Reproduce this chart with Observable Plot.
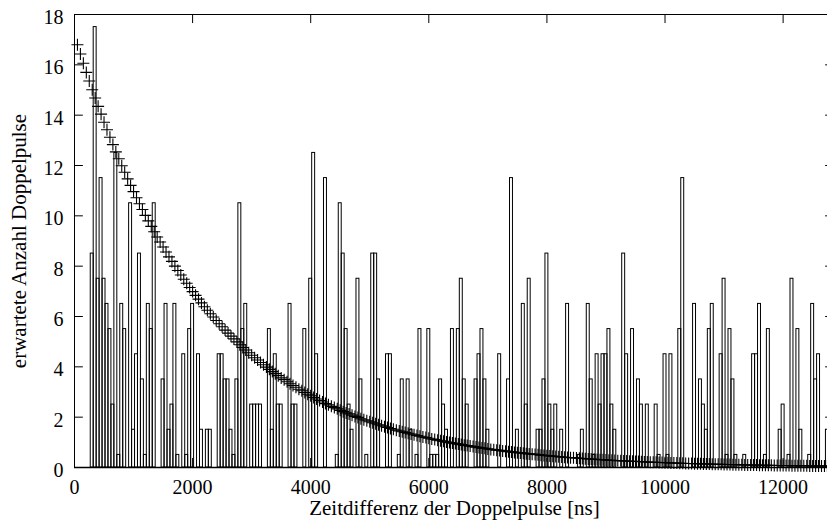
<!DOCTYPE html>
<html>
<head>
<meta charset="utf-8">
<script src="https://cdn.jsdelivr.net/npm/d3@7"></script>
<script src="https://cdn.jsdelivr.net/npm/@observablehq/plot@0.6"></script>
<style>
  html, body { margin: 0; padding: 0; background: white; overflow: hidden; }
  svg { display: block; }
</style>
</head>
<body>
<div id="chart"></div>
<script>
// Histogram bins (center time in ns, bin width 50 ns) and expected counts
const binWidth = 50;
const barTimes = [
  300,350,400,450,500,550,600,650,700,750,800,850,950,1000,1050,1100,1150,1200,1250,1300,1350,1500,1550,
  1600,1650,1700,1750,1850,1900,1950,2000,2100,2150,2250,2300,2450,2500,2550,2600,2650,2700,2750,2800,2850,2900,3000,3050,3100,3150,
  3300,3350,3400,3450,3500,3650,3700,3750,3900,4000,4050,4100,4250,4450,4500,4550,4600,4650,4700,4800,
  4850,4950,5050,5100,5150,5300,5350,5500,5550,5650,5700,5800,5850,6000,6050,6100,6150,6200,6250,6300,6400,
  6500,6550,6600,6650,6800,6850,6900,6950,7000,7200,7350,7400,7500,7600,7650,7700,7850,7900,7950,8000,8050,
  8100,8150,8250,8350,8550,8600,8700,8750,8800,8850,8900,8950,9000,9050,9100,9150,9300,9350,9450,9550,9600,
  9700,9850,9900,10000,10050,10100,10250,10300,10500,10600,10650,10700,10750,10800,10950,11000,11050,11100,11150,11200,
  11350,11500,11550,11600,11700,11750,11950,12000,12100,12150,12250,12300,12450,12500,12550,12600,12750
];
const barCounts = [
  8.5,17.5,7.5,11.5,7.5,6.5,5.5,2.5,12.5,0.5,6.5,5.5,10.5,1.5,4.5,8.5,3.5,0.5,6.5,5.5,10.5,3.5,6.5,
  1.5,2.5,6.5,0.5,4.5,0.5,5.5,6.5,4.5,1.5,1.5,1.5,4.5,4.5,3.5,3.5,1.5,0.5,3.5,10.5,5.5,6.5,2.5,2.5,2.5,2.5,
  5.5,1.5,4.5,2.5,2.5,6.5,2.5,2.5,5.5,7.5,12.5,4.5,11.5,0.5,10.5,8.5,5.5,2.5,1.5,7.5,
  3.5,0.5,8.5,8.5,3.5,4.5,4.5,0.5,3.5,3.5,1.5,0.5,5.5,5.5,0.5,0.5,0.5,3.5,2.5,1.5,5.5,
  5.5,7.5,3.5,2.5,3.5,4.5,5.5,3.5,1.5,4.5,3.5,11.5,1.5,6.5,2.5,7.5,1.5,1.5,3.5,8.5,2.5,
  1.5,2.5,1.5,6.5,0.5,1.5,6.5,3.5,0.5,4.5,2.5,4.5,4.5,5.5,2.5,1.5,8.5,4.5,5.5,3.5,2.5,
  2.5,2.5,0.5,4.5,0.5,4.5,5.5,11.5,6.5,3.5,2.5,1.5,5.5,6.5,4.5,7.5,0.5,5.5,3.5,0.5,
  0.5,4.5,4.5,6.5,0.5,5.5,1.5,2.5,0.5,7.5,5.5,1.5,0.5,6.5,3.5,4.5,1.5
];

// Expected-value curve, one "+" every 50 ns starting at 50 ns
const curveStart = 50;
const curveStep = 50;
const curveValues = [
  16.80,16.43,16.06,15.70,15.36,15.01,14.68,14.35,14.04,13.72,
  13.42,13.12,12.83,12.54,12.27,11.99,11.73,11.47,11.21,10.96,
  10.72,10.48,10.25,10.02,9.80,9.58,9.37,9.16,8.96,8.76,
  8.56,8.37,8.19,8.00,7.83,7.65,7.48,7.32,7.15,6.99,
  6.84,6.69,6.54,6.39,6.25,6.11,5.98,5.84,5.71,5.59,
  5.46,5.34,5.22,5.11,4.99,4.88,4.77,4.67,4.56,4.46,
  4.36,4.27,4.17,4.08,3.99,3.90,3.81,3.73,3.65,3.56,
  3.49,3.41,3.33,3.26,3.19,3.11,3.05,2.98,2.91,2.85,
  2.78,2.72,2.66,2.60,2.54,2.49,2.43,2.38,2.33,2.27,
  2.22,2.17,2.13,2.08,2.03,1.99,1.94,1.90,1.86,1.82,
  1.78,1.74,1.70,1.66,1.62,1.59,1.55,1.52,1.48,1.45,
  1.42,1.39,1.36,1.33,1.30,1.27,1.24,1.21,1.19,1.16,
  1.13,1.11,1.08,1.06,1.04,1.01,0.99,0.97,0.95,0.93,
  0.91,0.88,0.87,0.85,0.83,0.81,0.79,0.77,0.76,0.74,
  0.72,0.71,0.69,0.68,0.66,0.65,0.63,0.62,0.60,0.59,
  0.58,0.57,0.55,0.54,0.53,0.52,0.51,0.49,0.48,0.47,
  0.46,0.45,0.44,0.43,0.42,0.41,0.40,0.39,0.39,0.38,
  0.37,0.36,0.35,0.34,0.34,0.33,0.32,0.31,0.31,0.30,
  0.29,0.29,0.28,0.27,0.27,0.26,0.26,0.25,0.25,0.24,
  0.24,0.23,0.22,0.22,0.21,0.21,0.21,0.20,0.20,0.19,
  0.19,0.18,0.18,0.18,0.17,0.17,0.16,0.16,0.16,0.15,
  0.15,0.15,0.14,0.14,0.14,0.13,0.13,0.13,0.13,0.12,
  0.12,0.12,0.11,0.11,0.11,0.11,0.10,0.10,0.10,0.10,
  0.10,0.09,0.09,0.09,0.09,0.09,0.08,0.08,0.08,0.08,
  0.08,0.08,0.07,0.07,0.07,0.07,0.07,0.07,0.06,0.06,
  0.06,0.06,0.06,0.06,0.06,0.05
];

const xTicks = [0, 2000, 4000, 6000, 8000, 10000, 12000];
const yTicks = [0, 2, 4, 6, 8, 10, 12, 14, 16, 18];
const xLabel = "Zeitdifferenz der Doppelpulse [ns]";
const yLabel = "erwartete Anzahl Doppelpulse";

const xMax = 12870;
const yMax = 18;

const bars = barTimes.map((t, i) => ({x1: t - binWidth / 2, x2: t + binWidth / 2, y: barCounts[i]}));
const curve = curveValues.map((v, i) => ({x: curveStart + i * curveStep, y: v}));

const plusSymbol = {
  draw(context, size) {
    const r = Math.sqrt(size / Math.PI);
    context.moveTo(-r, 0); context.lineTo(r, 0);
    context.moveTo(0, -r); context.lineTo(0, r);
  }
};

const tickLenX = 150;   // inward tick length in x units (~9px)
const tickLenY = 0.36;  // inward tick length in y units (~9px)

const chart = Plot.plot({
  width: 827,
  height: 524,
  marginTop: 14,
  marginBottom: 57,
  marginLeft: 74,
  marginRight: 0,
  x: {domain: [0, xMax], range: [74, 834]},
  y: {domain: [0, yMax]},
  style: {fontFamily: "'Liberation Serif', 'Times New Roman', serif", fontSize: "20px", background: "white", color: "black"},
  marks: [
    Plot.rectY(bars, {x1: "x1", x2: "x2", y: "y", fill: "none", stroke: "black", strokeWidth: 1}),
    Plot.dot(curve, {x: "x", y: "y", symbol: plusSymbol, r: 6, stroke: "black", fill: "none", strokeWidth: 1.1}),
    // frame
    Plot.ruleY([0], {stroke: "black", strokeWidth: 1.3}),
    Plot.ruleY([yMax], {stroke: "black", strokeWidth: 1}),
    Plot.ruleX([0], {stroke: "black", strokeWidth: 1}),
    // inward ticks
    Plot.ruleY(yTicks, {x1: 0, x2: tickLenX, stroke: "black"}),
    Plot.ruleY(yTicks, {x1: xMax - tickLenX, x2: xMax, stroke: "black"}),
    Plot.ruleX(xTicks, {y1: yMax - tickLenY, y2: yMax, stroke: "black"}),
    Plot.ruleX(xTicks, {y1: 0, y2: tickLenY, stroke: "black"}),
    // tick labels
    Plot.axisX(xTicks, {tickSize: 0, tickPadding: 12, label: null, fontSize: 20, tickFormat: d => String(d)}),
    Plot.axisY(yTicks, {tickSize: 0, tickPadding: 11, label: null, fontSize: 20, dy: 3, tickFormat: d => String(d)}),
    // axis titles
    Plot.text([xLabel], {x: 6435, frameAnchor: "bottom", lineAnchor: "middle", textAnchor: "middle", dy: 41, text: d => d, fontSize: 21}),
    Plot.text([yLabel], {frameAnchor: "left", lineAnchor: "middle", textAnchor: "middle", dx: -55, rotate: -90, text: d => d, fontSize: 21})
  ]
});
document.getElementById("chart").appendChild(chart);
</script>
</body>
</html>
